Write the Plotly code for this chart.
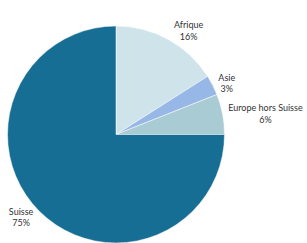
import plotly.graph_objects as go

labels = ["Afrique", "Asie", "Europe hors Suisse", "Suisse"]
values = [16, 3, 6, 75]
colors = ["#cfe3ea", "#97b7e7", "#a9cbd3", "#176e94"]

W, H = 307, 243
fig = go.Figure(go.Pie(
    labels=labels,
    values=values,
    sort=False,
    direction="clockwise",
    rotation=0,
    marker=dict(colors=colors, line=dict(color="white", width=0.5)),
    texttemplate="%{label}<br>%{percent:.0%}",
    textposition="outside",
    outsidetextfont=dict(family="Lato", size=9, color="#333333"),
    automargin=False,
    showlegend=False,
    hoverinfo="skip",
    domain=dict(x=[7 / W, 225 / W], y=[0, 217 / H]),
))
fig.update_layout(
    width=W, height=H,
    margin=dict(l=0, r=0, t=0, b=0),
    paper_bgcolor="white",
    plot_bgcolor="white",
)
fig.write_html("out.html", config={"displayModeBar": False})

with open("out.html", encoding="utf-8") as f:
    html = f.read()
html = html.replace("<head>", "<head><style>html,body{margin:0;padding:0;overflow:hidden;}</style>", 1)
with open("out.html", "w", encoding="utf-8") as f:
    f.write(html)
